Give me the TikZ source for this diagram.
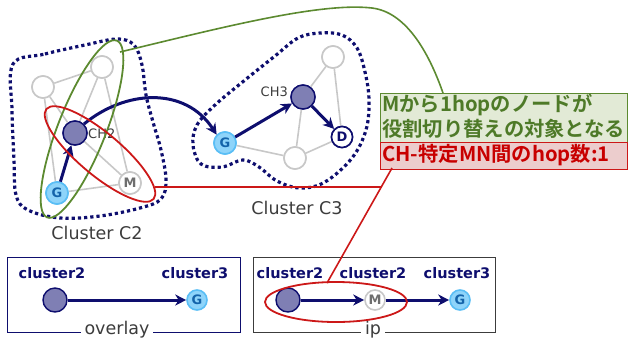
\documentclass[tikz,border=0pt]{standalone}
\usepackage{fontspec}
\setmainfont{DejaVu Sans}
\newfontfamily\cjk{Noto Sans CJK JP}[BoldFont={* Bold}]
\usetikzlibrary{shapes.geometric,arrows.meta}
\definecolor{navy}{RGB}{14,14,110}
\definecolor{chfill}{RGB}{127,127,180}
\definecolor{edgegray}{RGB}{200,200,200}
\definecolor{gfill}{RGB}{142,212,250}
\definecolor{gborder}{RGB}{90,190,245}
\definecolor{gtext}{RGB}{20,100,170}
\definecolor{mtext}{RGB}{110,110,110}
\definecolor{grn}{RGB}{92,138,48}
\definecolor{grnfill}{RGB}{226,234,214}
\definecolor{grntext}{RGB}{78,122,40}
\definecolor{rd}{RGB}{204,24,24}
\definecolor{rdfill}{RGB}{236,205,205}
\definecolor{rdtext}{RGB}{200,0,0}
\definecolor{lbl}{RGB}{60,60,60}
\tikzset{
  graynode/.style={circle,draw=edgegray,line width=1.6bp,fill=white,minimum size=22bp,inner sep=0pt},
  chnode/.style={circle,draw=navy,line width=1.4bp,fill=chfill,minimum size=24bp,inner sep=0pt},
  gnode/.style={circle,draw=gborder,line width=1.6bp,fill=gfill,minimum size=22bp,inner sep=0pt,text=gtext,font=\bfseries\fontsize{13bp}{13bp}\selectfont},
  mnode/.style={circle,draw=edgegray,line width=1.6bp,fill=white,minimum size=22bp,inner sep=0pt,text=mtext,font=\bfseries\fontsize{13bp}{13bp}\selectfont},
  dnode/.style={circle,draw=navy,line width=1.6bp,fill=white,minimum size=21bp,inner sep=0pt,text=navy,font=\bfseries\fontsize{13bp}{13bp}\selectfont},
  gedge/.style={draw=edgegray,line width=1.6bp},
  narrow/.style={draw=navy,line width=3bp,-{Stealth[length=11bp,width=11bp,inset=3.5bp]}},
  dotline/.style={draw=navy,line width=3.2bp,dash pattern=on 3.2bp off 3bp},
  chlbl/.style={text=lbl,font=\fontsize{13bp}{13bp}\selectfont,inner sep=0pt},
  clbl/.style={text=lbl,font=\fontsize{17.5bp}{17.5bp}\selectfont,inner sep=0pt},
  bluelbl/.style={text=navy,font=\bfseries\fontsize{14.5bp}{14.5bp}\selectfont,inner sep=0pt},
  boxlbl/.style={text=lbl,fill=white,font=\fontsize{17.5bp}{17.5bp}\selectfont,inner xsep=4bp,inner ysep=1bp},
  jtext/.style={anchor=west,inner sep=0pt,font=\cjk\bfseries\fontsize{20.3bp}{20.3bp}\selectfont},
}
\begin{document}
\begin{tikzpicture}[x=1bp,y=-1bp]
\useasboundingbox (0,0) rectangle (629,342);
% ---------- cluster C2 ----------
\node[graynode] (tl) at (43,87) {};
\node[graynode] (tp) at (102,67) {};
\node[chnode] (ch2) at (75,133) {};
\node[gnode] (g2) at (57,193) {G};
\node[mnode] (m2) at (130,183) {M};
\draw[gedge] (tl) -- (tp);
\draw[gedge] (tl) -- (g2);
\draw[gedge] (tl) -- (ch2);
\draw[gedge] (tp) -- (ch2);
\draw[gedge] (tp) -- (m2);
\draw[gedge] (ch2) -- (m2);
\draw[gedge] (g2) -- (m2);
\node[graynode] at (tl) {};
\node[graynode] at (tp) {};
\node[chnode] at (ch2) {};
\node[gnode] at (g2) {G};
\node[mnode] at (m2) {M};
\node[chlbl,anchor=west] (ch2l) at (88,134) {CH2};
% ---------- cluster C3 ----------
\node[graynode] (t3) at (333,57) {};
\node[graynode] (b3) at (295,158) {};
\node[chnode] (ch3) at (303,97) {};
\node[gnode] (g3) at (225,143) {G};
\node[dnode] (d3) at (342,137) {D};
\draw[gedge] (g3) -- (b3);
\draw[gedge] (b3) -- (d3);
\draw[gedge] (b3) -- (ch3);
\draw[gedge] (ch3) -- (t3);
\draw[gedge] (t3) -- (d3);
\node[graynode] at (t3) {};
\node[graynode] at (b3) {};
\node[chnode] at (ch3) {};
\node[gnode] at (g3) {G};
\node[dnode] at (d3) {D};
\node[chlbl,anchor=east] (ch3l) at (288,92) {CH3};
% ---------- dotted cluster outlines ----------
\draw[dotline] plot[smooth cycle,tension=0.6] coordinates {(13,64) (45,54) (85,45) (117,39) (134,45) (142,65) (146,95) (153,122) (161,150) (166,180) (161,199) (140,208) (100,216) (60,218) (28,210) (16,195) (14,160) (12,110)};
\draw[dotline] plot[smooth cycle,tension=0.6] coordinates {(193,145) (197,125) (215,105) (245,80) (275,56) (298,38) (320,33) (342,35) (357,48) (365,72) (369,100) (366,130) (352,158) (325,182) (300,188) (277,181) (259,167) (243,160) (222,167) (201,164)};
% ---------- arrows ----------
\draw[narrow] (g2) -- (ch2);
\draw[narrow] (ch2.north east) .. controls (125,90) and (185,86) .. (g3.north west);
\draw[narrow] (g3) -- (ch3);
\draw[narrow] (ch3) -- (d3);
% ---------- labels ----------
\node[clbl] (c2l) at (97,233) {Cluster C2};
\node[clbl] (c3l) at (297,208) {Cluster C3};
% ---------- ellipses ----------
\node[ellipse,draw=grn,line width=1.8bp,minimum width=190bp,minimum height=48bp,rotate=68.5] (gell) at (82,129) {};
\node[ellipse,draw=rd,line width=1.8bp,minimum width=140bp,minimum height=42bp,rotate=-40] (rell) at (100,154) {};
% ---------- callout boxes ----------
\node[draw=grn,line width=1.4bp,fill=grnfill,minimum width=247bp,minimum height=49bp,anchor=north west,inner sep=0pt] (gbox) at (380,93) {};
\node[jtext,text=grntext] (gt1) at (382,105) {Mから1hopのノードが};
\node[jtext,text=grntext] (gt2) at (382,129) {役割切り替えの対象となる};
\node[draw=rd,line width=1.4bp,fill=rdfill,minimum width=247bp,minimum height=27bp,anchor=north west,inner sep=0pt] (rbox) at (380,142) {};
\node[jtext,text=rdtext] (rt) at (382,155) {CH-特定MN間のhop数:1};
% ---------- callout lines ----------
\coordinate (gs) at (120,52);
\coordinate (ge) at (443,93);
\draw[grn,line width=1.6bp] (gs) .. controls (220,28) and (320,2) .. (372,8) .. controls (405,12) and (428,50) .. (ge);
% ---------- bottom boxes ----------
\node[draw=navy,line width=1.4bp,minimum width=233bp,minimum height=75bp,anchor=north west,inner sep=0pt] (obox) at (7,257) {};
\node[draw=lbl,line width=1.4bp,minimum width=242bp,minimum height=75bp,anchor=north west,inner sep=0pt] (ibox) at (253,257) {};
\node[boxlbl] (ol) at (117,330) {overlay};
\node[boxlbl] (il) at (373,330) {ip};
\node[bluelbl] (oc2) at (52,273) {cluster2};
\node[bluelbl] (oc3) at (195,273) {cluster3};
\node[chnode] (och) at (55,300) {};
\node[gnode,minimum size=20bp] (og) at (197,300) {G};
\draw[narrow] (och) -- (og);
\node[bluelbl] (ic2) at (290,273) {cluster2};
\node[bluelbl] (ic2b) at (373,273) {cluster2};
\node[bluelbl] (ic3) at (457,273) {cluster3};
\node[chnode] (ich) at (288,300) {};
\node[mnode,minimum size=20bp] (im) at (375,300) {M};
\node[gnode,minimum size=20bp] (ig) at (460,300) {G};
\draw[narrow] (ich) -- (im);
\draw[narrow] (im) -- (ig);
\node[ellipse,draw=rd,line width=1.8bp,minimum width=142bp,minimum height=40bp] (iell) at (336,302) {};
% ---------- red callout lines ----------
\coordinate (rj) at (381,187);
\coordinate (rs) at (155,187);
\coordinate (rb) at (392,168);
\coordinate (re) at (327,283);
\draw[rd,line width=1.6bp] (rs) -- (rj);
\draw[rd,line width=1.6bp] (rb) -- (re);
\end{tikzpicture}
\end{document}
